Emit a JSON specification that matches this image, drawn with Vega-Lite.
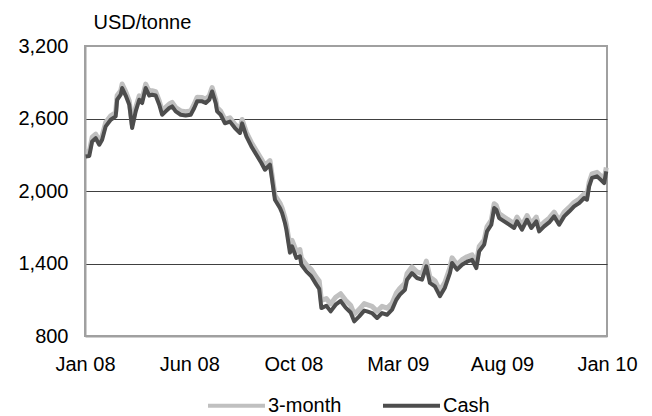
{
  "$schema": "https://vega.github.io/schema/vega-lite/v6.json",
  "width": 522,
  "height": 290,
  "autosize": {"type": "none"},
  "padding": {"left": 85, "top": 46, "right": 45, "bottom": 80},
  "background": "white",
  "config": {
    "font": "Liberation Sans",
    "view": {"stroke": "#a0a0a0", "strokeWidth": 2},
    "axis": {"labelFont": "Liberation Sans", "titleFont": "Liberation Sans", "labelColor": "#000000", "titleColor": "#000000"},
    "legend": {"labelFont": "Liberation Sans"}
  },
  "data": {
    "values": [
      {"date":"2008-01-02","cash":2285,"m3":2325},
      {"date":"2008-01-07","cash":2290,"m3":2325},
      {"date":"2008-01-11","cash":2410,"m3":2445},
      {"date":"2008-01-16","cash":2437,"m3":2470},
      {"date":"2008-01-21","cash":2383,"m3":2415},
      {"date":"2008-01-25","cash":2425,"m3":2458},
      {"date":"2008-01-30","cash":2535,"m3":2568},
      {"date":"2008-02-06","cash":2590,"m3":2622},
      {"date":"2008-02-13","cash":2617,"m3":2650},
      {"date":"2008-02-15","cash":2755,"m3":2790},
      {"date":"2008-02-20","cash":2797,"m3":2830},
      {"date":"2008-02-22","cash":2852,"m3":2885},
      {"date":"2008-02-27","cash":2790,"m3":2822},
      {"date":"2008-03-03","cash":2714,"m3":2745},
      {"date":"2008-03-07","cash":2521,"m3":2550},
      {"date":"2008-03-12","cash":2659,"m3":2692},
      {"date":"2008-03-17","cash":2755,"m3":2788},
      {"date":"2008-03-21","cash":2728,"m3":2760},
      {"date":"2008-03-26","cash":2852,"m3":2885},
      {"date":"2008-03-31","cash":2790,"m3":2822},
      {"date":"2008-04-04","cash":2797,"m3":2830},
      {"date":"2008-04-09","cash":2790,"m3":2822},
      {"date":"2008-04-14","cash":2714,"m3":2746},
      {"date":"2008-04-18","cash":2631,"m3":2663},
      {"date":"2008-04-23","cash":2659,"m3":2692},
      {"date":"2008-04-28","cash":2687,"m3":2720},
      {"date":"2008-05-02","cash":2700,"m3":2733},
      {"date":"2008-05-07","cash":2659,"m3":2691},
      {"date":"2008-05-14","cash":2631,"m3":2663},
      {"date":"2008-05-21","cash":2625,"m3":2657},
      {"date":"2008-05-28","cash":2631,"m3":2663},
      {"date":"2008-06-02","cash":2687,"m3":2720},
      {"date":"2008-06-06","cash":2742,"m3":2775},
      {"date":"2008-06-13","cash":2742,"m3":2774},
      {"date":"2008-06-18","cash":2728,"m3":2760},
      {"date":"2008-06-23","cash":2755,"m3":2787},
      {"date":"2008-06-27","cash":2824,"m3":2856},
      {"date":"2008-07-02","cash":2728,"m3":2760},
      {"date":"2008-07-04","cash":2659,"m3":2690},
      {"date":"2008-07-09","cash":2631,"m3":2662},
      {"date":"2008-07-15","cash":2560,"m3":2592},
      {"date":"2008-07-22","cash":2574,"m3":2606},
      {"date":"2008-07-29","cash":2521,"m3":2553},
      {"date":"2008-08-05","cash":2480,"m3":2512},
      {"date":"2008-08-08","cash":2560,"m3":2592},
      {"date":"2008-08-14","cash":2452,"m3":2485},
      {"date":"2008-08-21","cash":2369,"m3":2402},
      {"date":"2008-08-28","cash":2300,"m3":2333},
      {"date":"2008-09-04","cash":2232,"m3":2265},
      {"date":"2008-09-09","cash":2176,"m3":2210},
      {"date":"2008-09-16","cash":2218,"m3":2252},
      {"date":"2008-09-19","cash":2094,"m3":2130},
      {"date":"2008-09-23","cash":1928,"m3":1965},
      {"date":"2008-09-30","cash":1860,"m3":1900},
      {"date":"2008-10-03","cash":1818,"m3":1860},
      {"date":"2008-10-07","cash":1735,"m3":1780},
      {"date":"2008-10-09","cash":1680,"m3":1725},
      {"date":"2008-10-14","cash":1490,"m3":1540},
      {"date":"2008-10-17","cash":1542,"m3":1592},
      {"date":"2008-10-23","cash":1446,"m3":1500},
      {"date":"2008-10-28","cash":1460,"m3":1515},
      {"date":"2008-10-30","cash":1390,"m3":1445},
      {"date":"2008-11-06","cash":1335,"m3":1390},
      {"date":"2008-11-13","cash":1293,"m3":1350},
      {"date":"2008-11-20","cash":1225,"m3":1285},
      {"date":"2008-11-24","cash":1190,"m3":1255},
      {"date":"2008-11-27","cash":1031,"m3":1095},
      {"date":"2008-12-04","cash":1050,"m3":1110},
      {"date":"2008-12-10","cash":1004,"m3":1065},
      {"date":"2008-12-17","cash":1059,"m3":1120},
      {"date":"2008-12-24","cash":1090,"m3":1150},
      {"date":"2008-12-31","cash":1035,"m3":1095},
      {"date":"2009-01-07","cash":995,"m3":1055},
      {"date":"2009-01-12","cash":921,"m3":980},
      {"date":"2009-01-19","cash":962,"m3":1020},
      {"date":"2009-01-26","cash":1010,"m3":1068},
      {"date":"2009-01-30","cash":1004,"m3":1060},
      {"date":"2009-02-06","cash":990,"m3":1045},
      {"date":"2009-02-13","cash":949,"m3":1005},
      {"date":"2009-02-20","cash":990,"m3":1045},
      {"date":"2009-02-27","cash":976,"m3":1030},
      {"date":"2009-03-06","cash":1018,"m3":1072},
      {"date":"2009-03-12","cash":1100,"m3":1155},
      {"date":"2009-03-17","cash":1142,"m3":1195},
      {"date":"2009-03-24","cash":1183,"m3":1236},
      {"date":"2009-03-27","cash":1266,"m3":1318},
      {"date":"2009-04-03","cash":1321,"m3":1372},
      {"date":"2009-04-10","cash":1280,"m3":1330},
      {"date":"2009-04-17","cash":1266,"m3":1316},
      {"date":"2009-04-23","cash":1376,"m3":1420},
      {"date":"2009-04-28","cash":1239,"m3":1288},
      {"date":"2009-05-05","cash":1211,"m3":1258},
      {"date":"2009-05-12","cash":1130,"m3":1175},
      {"date":"2009-05-19","cash":1200,"m3":1245},
      {"date":"2009-05-26","cash":1321,"m3":1365},
      {"date":"2009-05-29","cash":1404,"m3":1447},
      {"date":"2009-06-05","cash":1349,"m3":1390},
      {"date":"2009-06-12","cash":1390,"m3":1432},
      {"date":"2009-06-19","cash":1415,"m3":1456},
      {"date":"2009-06-26","cash":1431,"m3":1472},
      {"date":"2009-07-02","cash":1362,"m3":1402},
      {"date":"2009-07-06","cash":1500,"m3":1540},
      {"date":"2009-07-13","cash":1556,"m3":1595},
      {"date":"2009-07-17","cash":1666,"m3":1705},
      {"date":"2009-07-23","cash":1721,"m3":1758},
      {"date":"2009-07-27","cash":1859,"m3":1895},
      {"date":"2009-07-30","cash":1845,"m3":1880},
      {"date":"2009-08-03","cash":1776,"m3":1812},
      {"date":"2009-08-10","cash":1749,"m3":1785},
      {"date":"2009-08-17","cash":1721,"m3":1757},
      {"date":"2009-08-24","cash":1694,"m3":1730},
      {"date":"2009-08-28","cash":1749,"m3":1785},
      {"date":"2009-09-04","cash":1680,"m3":1716},
      {"date":"2009-09-11","cash":1762,"m3":1797},
      {"date":"2009-09-17","cash":1694,"m3":1730},
      {"date":"2009-09-24","cash":1749,"m3":1784},
      {"date":"2009-09-28","cash":1666,"m3":1702},
      {"date":"2009-10-05","cash":1707,"m3":1742},
      {"date":"2009-10-12","cash":1740,"m3":1775},
      {"date":"2009-10-19","cash":1790,"m3":1825},
      {"date":"2009-10-26","cash":1721,"m3":1756},
      {"date":"2009-11-02","cash":1790,"m3":1825},
      {"date":"2009-11-09","cash":1830,"m3":1864},
      {"date":"2009-11-16","cash":1873,"m3":1907},
      {"date":"2009-11-23","cash":1900,"m3":1934},
      {"date":"2009-11-30","cash":1942,"m3":1976},
      {"date":"2009-12-04","cash":1928,"m3":1962},
      {"date":"2009-12-07","cash":2038,"m3":2072},
      {"date":"2009-12-11","cash":2108,"m3":2142},
      {"date":"2009-12-18","cash":2121,"m3":2155},
      {"date":"2009-12-23","cash":2094,"m3":2128},
      {"date":"2009-12-28","cash":2066,"m3":2100},
      {"date":"2009-12-31","cash":2162,"m3":2195}
    ]
  },
  "encoding": {
    "x": {
      "field": "date",
      "type": "temporal",
      "scale": {"domain": [{"year": 2008, "month": 1, "date": 1}, {"year": 2010, "month": 1, "date": 1}]},
      "axis": {
        "title": null,
        "values": [
          {"year": 2008, "month": 1, "date": 1},
          {"year": 2008, "month": 5, "date": 26},
          {"year": 2008, "month": 10, "date": 19},
          {"year": 2009, "month": 3, "date": 14},
          {"year": 2009, "month": 8, "date": 7},
          {"year": 2010, "month": 1, "date": 1}
        ],
        "labelExpr": "['Jan 08','Jun 08','Oct 08','Mar 09','Aug 09','Jan 10'][round(datum.index*5)]",
        "labelFontSize": 20,
        "labelPadding": 18,
        "labelFlush": false,
        "labelOverlap": false,
        "ticks": false,
        "grid": false,
        "domainColor": "#a0a0a0",
        "domainWidth": 2
      }
    }
  },
  "layer": [
    {
      "mark": {"type": "line", "strokeWidth": 5, "strokeJoin": "round"},
      "encoding": {
        "y": {
          "field": "m3",
          "type": "quantitative",
          "scale": {"domain": [800, 3200], "nice": false, "zero": false},
          "axis": {
            "title": "USD/tonne",
            "titleAngle": 0,
            "titleAlign": "left",
            "titleBaseline": "alphabetic",
            "titleX": 8,
            "titleY": -18,
            "titleFontSize": 20,
            "titleFontWeight": "normal",
            "values": [800, 1400, 2000, 2600, 3200],
            "format": ",.0f",
            "labelFontSize": 20,
            "labelPadding": 17,
            "ticks": false,
            "domainColor": "#a0a0a0",
            "domainWidth": 2,
            "grid": true,
            "gridColor": {"condition": {"test": "datum.value == 800 || datum.value == 3200", "value": "transparent"}, "value": "#404040"},
            "gridWidth": 1
          }
        },
        "color": {
          "datum": "3-month",
          "type": "nominal",
          "scale": {"domain": ["3-month", "Cash"], "range": ["#c0c0c0", "#4d4d4d"]},
          "legend": {
            "title": null,
            "orient": "none",
            "direction": "horizontal",
            "legendX": 121,
            "legendY": 329,
            "symbolType": "stroke",
            "symbolSize": 3249,
            "symbolStrokeWidth": 4,
            "labelFontSize": 20,
            "labelColor": "#000000",
            "labelOffset": 1,
            "columnPadding": 33
          }
        }
      }
    },
    {
      "mark": {"type": "line", "strokeWidth": 4, "strokeJoin": "round"},
      "encoding": {
        "y": {"field": "cash", "type": "quantitative"},
        "color": {"datum": "Cash", "type": "nominal"}
      }
    }
  ]
}
